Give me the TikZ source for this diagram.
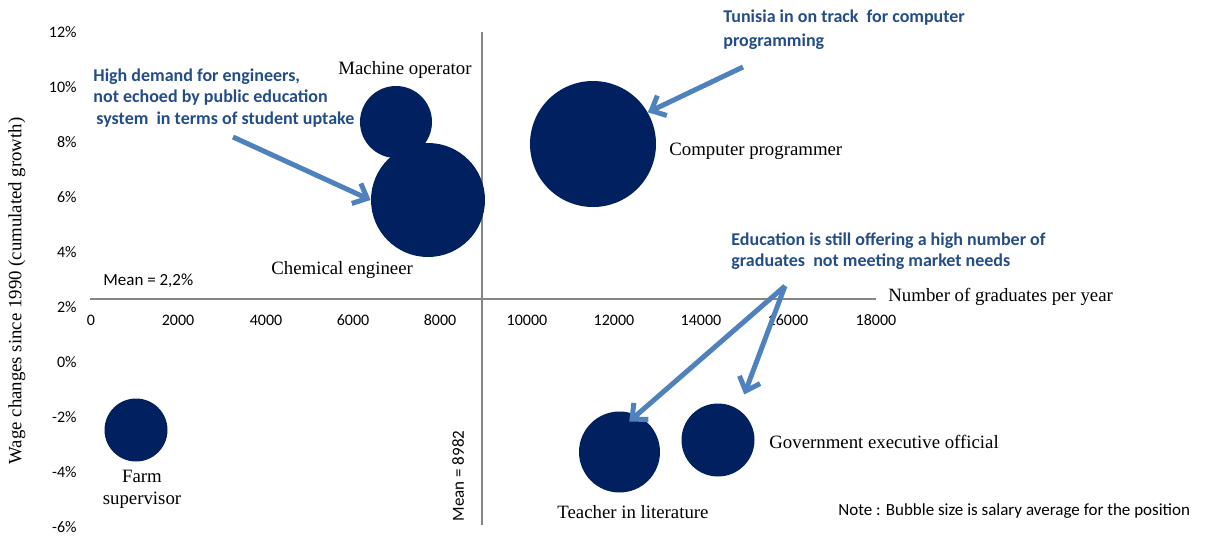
\documentclass[tikz,border=0pt]{standalone}
\usepackage{fontspec}
\setmainfont{Liberation Serif}
\newfontfamily\calibri{Carlito}
\usepackage{tikz}
\usetikzlibrary{shapes,arrows.meta,positioning}
\definecolor{bubblenavy}{RGB}{0,32,96}
\definecolor{calloutblue}{RGB}{79,129,189}
\definecolor{remarkblue}{RGB}{36,77,135}
\definecolor{axisgray}{RGB}{134,134,134}

\tikzset{
	bubble/.style={circle,fill=bubblenavy,draw=none,inner sep=0pt},
	callout/.style={draw=calloutblue,line width=2.5pt,-{Straight Barb[length=6pt,width=11pt]}},
	axisline/.style={draw=axisgray,line width=0.75pt},
	ticklabel/.style={font=\calibri\fontsize{8}{9.6}\selectfont,inner sep=0pt},
	joblabel/.style={font=\fontsize{9.4}{11}\selectfont,inner sep=0pt,anchor=west},
	remark/.style={font=\calibri\bfseries\fontsize{9}{10.75}\selectfont,text=remarkblue,align=left,inner sep=0pt,anchor=west},
	plainnote/.style={font=\calibri\fontsize{8.5}{10}\selectfont,inner sep=0pt}
}

\begin{document}
\begin{tikzpicture}[x=0.5pt,y=-0.5pt]
	\useasboundingbox (0,0) rectangle (1210,536);
	% the two mean lines
	\draw[axisline] (90,299) -- (876,299);
	\draw[axisline] (482,32) -- (482,525);
	%% the tick labels
	\node[ticklabel,anchor=east] (y12) at (77,32) {12\%};
	\node[ticklabel,anchor=east] (y10) at (77,87) {10\%};
	\node[ticklabel,anchor=east] (y8) at (77,142) {8\%};
	\node[ticklabel,anchor=east] (y6) at (77,197) {6\%};
	\node[ticklabel,anchor=east] (y4) at (77,252) {4\%};
	\node[ticklabel,anchor=east] (y2) at (77,307) {2\%};
	\node[ticklabel,anchor=east] (y0) at (77,362) {0\%};
	\node[ticklabel,anchor=east] (ym2) at (77,417) {-2\%};
	\node[ticklabel,anchor=east] (ym4) at (77,472) {-4\%};
	\node[ticklabel,anchor=east] (ym6) at (77,527) {-6\%};
	\node[ticklabel] (x0) at (91,320) {0};
	\node[ticklabel] (x2) at (178,320) {2000};
	\node[ticklabel] (x4) at (266,320) {4000};
	\node[ticklabel] (x6) at (353,320) {6000};
	\node[ticklabel] (x8) at (440,320) {8000};
	\node[ticklabel] (x10) at (527,320) {10000};
	\node[ticklabel] (x12) at (614,320) {12000};
	\node[ticklabel] (x14) at (701,320) {14000};
	\node[ticklabel] (x16) at (788,320) {16000};
	\node[ticklabel] (x18) at (876,320) {18000};
	%% axis titles and means
	\node[joblabel] (xtitle) at (888,297) {Number of graduates per year};
	\node[joblabel,anchor=center,rotate=90] (ytitle) at (17,291) {Wage changes since 1990 (cumulated growth)};
	\node[plainnote,anchor=west] (ymean) at (103,281) {Mean = 2,2\%};
	\node[plainnote,rotate=90] (xmean) at (458,476) {Mean = 8982};
	\node[plainnote,anchor=west] (note) at (838,511) {Note : Bubble size is salary average for the position};
	%% the bubbles
	\node[bubble,minimum size=36pt] (machine) at (396,122) {};
	\node[bubble,minimum size=57pt] (chem) at (428,200) {};
	\node[bubble,minimum size=63pt] (comp) at (593,144) {};
	\node[bubble,minimum size=40.5pt] (teacher) at (619.5,452) {};
	\node[bubble,minimum size=36.5pt] (gov) at (718,440) {};
	\node[bubble,minimum size=31.5pt] (farm) at (136,430) {};
	%% the labels
	\node[joblabel] (machinelbl) at (338,70) {Machine operator};
	\node[joblabel] (chemlbl) at (271,270) {Chemical engineer};
	\node[joblabel] (complbl) at (669,151) {Computer programmer};
	\node[joblabel] (govlbl) at (769,442) {Government executive official};
	\node[joblabel] (teacherlbl) at (557,512) {Teacher in literature};
	\node[joblabel,anchor=center,align=center,font=\fontsize{9.4}{11}\selectfont] (farmlbl) at (142,489) {Farm\\supervisor};
	%% the remarks and their arrows
	\node[remark] (engremark) at (93,98) {High demand for engineers,\\not echoed by public education\\ \,system\ \ in terms of student uptake};
	\node[remark,font=\calibri\bfseries\fontsize{9}{12}\selectfont] (tunremark) at (723,30) {Tunisia in on track\ \ for computer\\programming};
	\node[remark] (eduremark) at (731,251) {Education is still offering a high number of\\graduates\ \ not meeting market needs};
	\coordinate (engtail) at (233,137);
	\coordinate (tuntail) at (743,67);
	\coordinate (edutail) at (785,286);
	\draw[callout] (engtail) -- (chem.west);
	\draw[callout] (tuntail) -- (comp.30);
	\draw[callout,shorten >=-5pt] (edutail) -- (teacher.65);
	\draw[callout,shorten >=8pt] (edutail) -- (gov.56);
\end{tikzpicture}
\end{document}
